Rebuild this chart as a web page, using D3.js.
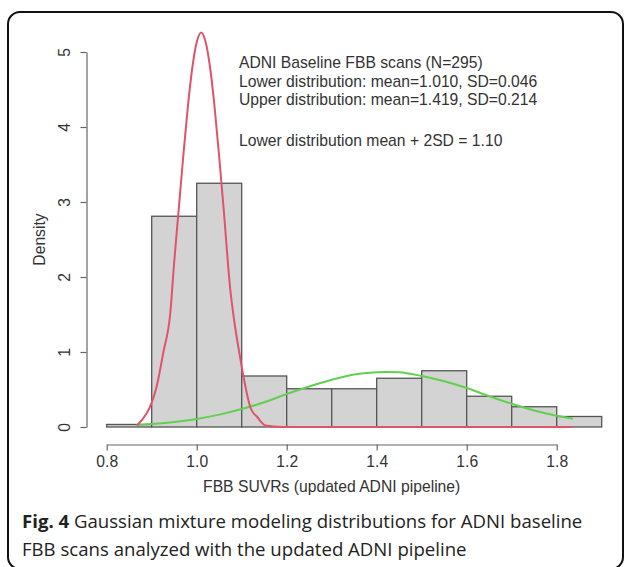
<!DOCTYPE html>
<html>
<head>
<meta charset="utf-8">
<script src="https://cdn.jsdelivr.net/npm/d3@7"></script>
<style>
  body { margin: 0; background: #fff; }
  svg { display: block; }
</style>
</head>
<body>
<div class="content"></div>
<script>
const [svgWidth, svgHeight] = [626, 567];

// histogram bins (density per 0.1 wide bin)
const binStart = [0.8, 0.9, 1.0, 1.1, 1.2, 1.3, 1.4, 1.5, 1.6, 1.7, 1.8];
const binDensity = [0.034, 2.81, 3.25, 0.68, 0.51, 0.51, 0.65, 0.75, 0.41, 0.27, 0.14];
const binWidth = 0.1;

// fitted component curves
const lowerX = [0.867, 0.911, 0.926, 0.941, 0.95, 0.96, 0.97, 0.98, 0.99, 1.0, 1.01, 1.02, 1.03, 1.04, 1.05, 1.06, 1.074, 1.083, 1.095, 1.104, 1.12, 1.135, 1.153, 1.19, 1.4, 1.6, 1.836];
const lowerY = [0.02, 0.54, 1.0, 1.5, 2.2, 2.9, 3.6, 4.25, 4.78, 5.13, 5.26, 5.13, 4.78, 4.25, 3.6, 2.9, 1.87, 1.43, 0.98, 0.67, 0.25, 0.13, 0.02, 0, 0, 0, 0];
const upperX = [0.867, 0.95, 1.0, 1.05, 1.1, 1.15, 1.2, 1.25, 1.3, 1.35, 1.4, 1.42, 1.45, 1.5, 1.55, 1.6, 1.65, 1.7, 1.75, 1.8, 1.836];
const upperY = [0.026, 0.068, 0.108, 0.165, 0.24, 0.33, 0.44, 0.54, 0.63, 0.70, 0.73, 0.735, 0.73, 0.68, 0.61, 0.52, 0.41, 0.31, 0.22, 0.15, 0.11];

const xTicks = [0.8, 1.0, 1.2, 1.4, 1.6, 1.8];
const yTicks = [0, 1, 2, 3, 4, 5];

const notes = [
  'ADNI Baseline FBB scans (N=295)',
  'Lower distribution: mean=1.010, SD=0.046',
  'Upper distribution: mean=1.419, SD=0.214'
];
const cutoffNote = 'Lower distribution mean + 2SD = 1.10';
const xTitle = 'FBB SUVRs (updated ADNI pipeline)';
const yTitle = 'Density';
const captionBold = 'Fig. 4';
const captionLines = [
  ' Gaussian mixture modeling distributions for ADNI baseline',
  'FBB scans analyzed with the updated ADNI pipeline'
];

const svg = d3.select('.content')
  .append('svg')
  .attr('width', svgWidth)
  .attr('height', svgHeight);

// rounded frame
svg.append('rect')
  .attr('x', 8).attr('y', 12)
  .attr('width', 615).attr('height', 557)
  .attr('rx', 12)
  .attr('fill', 'none')
  .attr('stroke', '#111')
  .attr('stroke-width', 2);

const x = d3.scaleLinear().domain([0.8, 1.8]).range([106.7, 556.7]);
const y = d3.scaleLinear().domain([0, 5]).range([427, 52]);

const font = '"Liberation Sans", Arial, sans-serif';
const fsize = '15.7px';
const ink = '#333';

// bars
svg.selectAll('rect.bar')
  .data(binStart)
  .enter()
  .append('rect')
  .classed('bar', true)
  .attr('x', (d) => x(d))
  .attr('width', (d) => x(d + binWidth) - x(d))
  .attr('y', (d, i) => y(binDensity[i]))
  .attr('height', (d, i) => y(0) - y(binDensity[i]))
  .attr('fill', '#d3d3d3')
  .attr('stroke', '#555')
  .attr('stroke-width', 1.3);

const line = d3.line()
  .x((d) => x(d[0]))
  .y((d) => y(d[1]))
  .curve(d3.curveMonotoneX);

svg.append('path')
  .datum(upperX.map((v, i) => [v, upperY[i]]))
  .attr('d', line)
  .attr('fill', 'none')
  .attr('stroke', '#61d04f')
  .attr('stroke-width', 2);

svg.append('path')
  .datum(lowerX.map((v, i) => [v, lowerY[i]]))
  .attr('d', line)
  .attr('fill', 'none')
  .attr('stroke', '#df536b')
  .attr('stroke-width', 2);

// axes
const xAxis = svg.append('g')
  .attr('transform', 'translate(0, 444.5)')
  .call(d3.axisBottom(x).tickValues(xTicks).tickFormat(d3.format('.1f')).tickSize(6).tickSizeOuter(0).tickPadding(5));
const yAxis = svg.append('g')
  .attr('transform', 'translate(86.5, 0)')
  .call(d3.axisLeft(y).tickValues(yTicks).tickFormat(d3.format('d')).tickSize(6).tickSizeOuter(0).tickPadding(6));

[xAxis, yAxis].forEach((g) => {
  g.select('.domain').attr('stroke', '#666').attr('stroke-width', 1.2);
  g.selectAll('.tick line').attr('stroke', '#666').attr('stroke-width', 1.2);
  g.selectAll('.tick text')
    .attr('fill', ink)
    .style('font-family', font)
    .style('font-size', fsize);
});
yAxis.selectAll('.tick text')
  .attr('transform', 'rotate(-90)')
  .attr('x', 0)
  .attr('y', -21)
  .attr('dy', '0')
  .attr('text-anchor', 'middle')
  .attr('dominant-baseline', 'middle');

svg.append('text')
  .attr('x', (x(0.8) + x(1.8)) / 2)
  .attr('y', 492)
  .attr('text-anchor', 'middle')
  .style('font-family', font)
  .style('font-size', fsize)
  .attr('fill', ink)
  .text(xTitle);

svg.append('text')
  .attr('transform', `translate(45, ${(y(0) + y(5)) / 2}) rotate(-90)`)
  .attr('text-anchor', 'middle')
  .style('font-family', font)
  .style('font-size', fsize)
  .attr('fill', ink)
  .text(yTitle);

// annotation block
svg.append('g')
  .selectAll('text')
  .data(notes)
  .enter()
  .append('text')
  .attr('x', 239)
  .attr('y', (d, i) => 68 + 18.6 * i)
  .style('font-family', font)
  .style('font-size', fsize)
  .attr('fill', ink)
  .text((d) => d);
svg.append('text')
  .attr('x', 239)
  .attr('y', 146)
  .style('font-family', font)
  .style('font-size', fsize)
  .attr('fill', ink)
  .text(cutoffNote);

// caption
const capFont = '"Open Sans", "Noto Sans", sans-serif';
const cap = svg.append('text')
  .attr('x', 22)
  .attr('y', 528)
  .style('font-family', capFont)
  .style('font-size', '18.6px')
  .attr('fill', '#222');
cap.append('tspan').style('font-weight', 'bold').text(captionBold);
cap.append('tspan').text(captionLines[0]);
svg.append('text')
  .attr('x', 22)
  .attr('y', 556)
  .style('font-family', capFont)
  .style('font-size', '18.6px')
  .attr('fill', '#222')
  .text(captionLines[1]);
</script>
</body>
</html>
